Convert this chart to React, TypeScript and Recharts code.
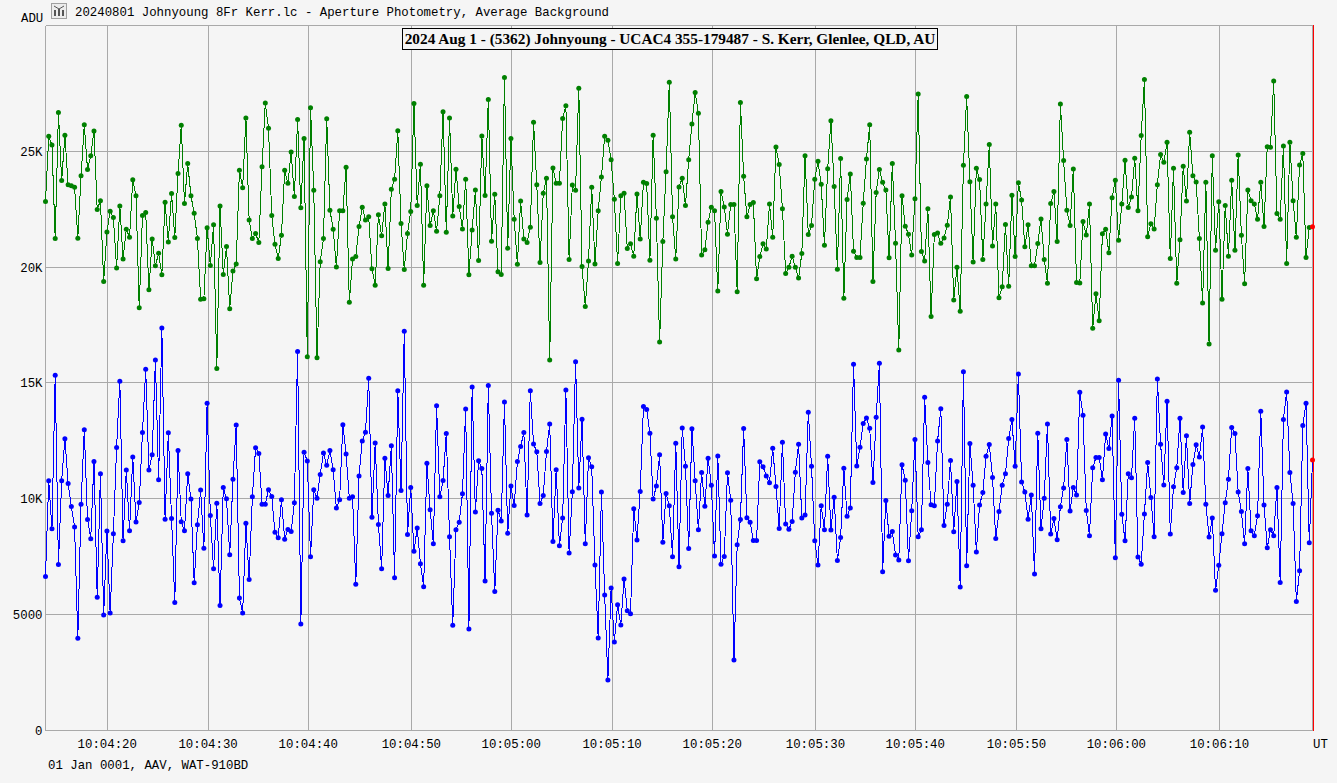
import React from "react";
import { CartesianGrid, Line, LineChart, ReferenceLine, XAxis, YAxis } from "recharts";

const targetAdu = [
  22830, 25650, 25270, 21240, 26670, 23740, 25690, 23560, 23510, 23450, 21250, 23940, 26150, 24210, 24810, 25880,
  22490, 22870, 19380, 21520, 22410, 22140, 19960, 22640, 20350, 21640, 21290, 23770, 23080, 18250, 22230, 22360,
  19020, 21220, 20060, 20600, 19670, 22800, 21090, 23180, 21280, 24040, 26120, 22750, 24470, 23080, 22330, 21240,
  18610, 18640, 21700, 20070, 21830, 15620, 22640, 19680, 20890, 18200, 19830, 20140, 24180, 23430, 26440, 22040,
  21240, 21450, 21060, 24330, 27080, 25990, 22230, 20990, 20370, 21380, 24180, 23620, 24970, 23050, 26370, 22560,
  25550, 16130, 26880, 23320, 16090, 20230, 21240, 26410, 22460, 21640, 20010, 22430,

  22430, 24310, 18480, 20350, 20460, 21750, 22590, 22030, 22170, 19930, 19220, 22260, 21350, 22730, 19940, 23360,
  23790, 25890, 21880, 19900, 21450, 22400, 27060, 22660, 24440, 19220, 23510, 21800, 22430, 21550, 23080, 26710,
  21510, 26440, 22210, 24230, 22620, 21650, 23790, 19670, 21600, 23330, 20290, 25660, 23090, 27240, 21120, 23150,
  19800, 19680, 28190, 20820, 25550, 22070, 20130, 22860, 21210, 21060, 21720, 26250, 23560, 20200, 23190, 23840,
  15990, 24280, 23620, 23620, 26420, 26970, 20330, 23550, 23320, 27720, 20030, 18300, 20270, 23450, 20140, 22430,
  23890, 25650, 25480, 24630, 22930, 20160, 23080, 23190, 20800, 21010, 20470, 23160, 21220, 23660, 23610, 20300,
  25690, 22110, 16770, 21110, 24120, 27980, 22170, 20350, 23460,

  23840, 22660, 24640, 26180, 27540, 26640, 20520, 20750, 21940, 22590, 22430, 18970, 23260, 22600, 21420, 22700,
  22700, 18940, 27110, 23920, 22170, 22700, 22790, 19500, 20460, 21010, 20780, 22720, 21290, 25190, 24430, 22520,
  19730, 19990, 20470, 20000, 19530, 20590, 24810, 21410, 21800, 23790, 24570, 23580, 20950, 24250, 26320, 23480,
  19910, 24690, 18660, 22920, 24020, 20690, 20420, 20420, 22760, 24670, 26150, 19380, 23220, 24210, 23660, 23330,
  20400, 24470, 21030, 16420, 23080, 21770, 21420, 20520, 22950, 27470, 20680, 20270, 22520, 17870, 21410, 21470,
  21030, 21260, 21810, 23030, 18580, 19990, 18100, 24400, 27370, 23690, 20220, 24270, 23780, 20330, 22730, 25290,
  20910, 22720, 18680, 19150, 21840, 19170, 23100, 20460, 23640,

  22900, 20880, 21830, 20060, 20060, 21020, 22080, 20330, 19310, 22750, 23260, 21110, 27040, 24600, 22460, 21800,
  24240, 19340, 19320, 21970, 21390, 22720, 17360, 18850, 17690, 21440, 21640, 20620, 23000, 23750, 21160, 22720,
  24610, 22570, 23030, 24700, 22430, 25680, 28100, 21310, 21870, 21650, 23560, 24860, 24530, 25390, 20370, 24270,
  19300, 21180, 24350, 22850, 25820, 23940, 23680, 21240, 18450, 23660, 16680, 24810, 20730, 22820, 18610, 22660,
  20470, 23750, 20730, 24840, 21380, 19280, 23330, 22870, 22720, 22070, 23660, 21750, 25200, 25170, 28030, 22310,
  22070, 25230, 20160, 25390, 22870, 21290, 24410, 24900, 20420, 21710, 21740,
];

const compAdu = [
  6650, 10780, 8710, 15330, 7160, 10780, 12590, 10660, 9670, 8780, 3980, 9770, 12980, 9110, 8280, 11610,
  5750, 11080, 4990, 8610, 5070, 8490, 12210, 15080, 8190, 11240, 8620, 11800, 9000, 9840, 12860, 15590,
  11240, 11900, 15990, 10820, 17370, 9120, 12850, 9150, 5530, 12090, 9010, 8620, 11080, 9990, 6380, 8880,
  10380, 7870, 14130, 9280, 6980, 9810, 5400, 10490, 10000, 7590, 10850, 13190, 5720, 5070, 8950, 6520,
  10090, 12200, 11960, 9770, 9770, 10390, 10100, 8560, 8320, 9960, 8250, 8680, 8590, 9830, 16360, 4600,
  12010, 11630, 7500, 10390, 10030, 11050, 11980, 11450, 12090, 11250, 9600, 9960,

  13200, 11930, 10030, 10090, 6310, 10980, 12500, 12870, 15200, 9200, 12410, 8890, 6980, 11750, 10140, 12290,
  6590, 14670, 10360, 17230, 8460, 10490, 7740, 8740, 7200, 6210, 11540, 9530, 8060, 14020, 10090, 10790,
  12820, 8360, 4540, 8660, 8990, 10220, 13880, 4380, 14830, 9430, 11640, 11310, 6450, 14890, 9380, 6000,
  9510, 9040, 14180, 8510, 10550, 9710, 11610, 12260, 12860, 9300, 14670, 12370, 12030, 9800, 10140, 12040,
  13230, 8160, 11260, 7970, 9170, 14700, 7660, 10300, 15920, 10470, 13430, 8060, 11770, 11380, 7140, 3990,
  10290, 5850, 2180, 6150, 3820, 5430, 4550, 6540, 5170, 5040, 9570, 8220, 10320, 13980, 13850, 12830,
  9990, 10550, 11900, 8130, 10230, 9700, 7500, 12400, 7070,

  13060, 11410, 7860, 13020, 10780, 8660, 11140, 9680, 11750, 10590, 7530, 11850, 7180, 7510, 11120, 9940,
  3040, 8020, 9110, 13030, 9180, 8990, 8200, 8200, 11600, 11380, 10990, 10690, 12180, 10530, 8720, 12440,
  8910, 8690, 9020, 11150, 12360, 9170, 9300, 13740, 11410, 8190, 7140, 9700, 8660, 11840, 8650, 10070,
  7340, 8330, 11320, 9250, 9600, 15810, 11420, 12230, 13250, 13490, 13050, 10700, 13520, 15850, 6850, 9930,
  8380, 8590, 7570, 7360, 11470, 10800, 7330, 9480, 12560, 8360, 8660, 14380, 11570, 9740, 9700, 12500,
  13890, 8850, 9770, 11650, 8580, 10750, 6190, 15490, 7110, 12390, 10590, 7700, 9730, 10270, 11840, 12340,
  10920, 8290, 9450, 10590, 11080, 12600, 13420, 11410, 15390,

  10730, 10290, 9120, 10160, 6750, 12830, 8710, 10030, 13230, 8480, 9150, 8230, 9660, 10470, 12560, 9470,
  10490, 10160, 14600, 13610, 9500, 8410, 11340, 11780, 11780, 10820, 12800, 12170, 13580, 7460, 15120, 9330,
  8190, 11080, 10910, 13480, 7490, 7180, 9350, 11570, 10060, 8360, 15170, 12360, 10600, 14210, 8480, 10520,
  11340, 13480, 10270, 12720, 9800, 11480, 12330, 11810, 13100, 9770, 8350, 9170, 6050, 7130, 8490, 9830,
  10850, 13080, 12820, 10290, 9450, 8060, 11310, 8620, 8410, 9270, 13780, 9730, 7890, 8660, 8410, 10490,
  6390, 13420, 14610, 11140, 9800, 5570, 6900, 13160, 14120, 8100, 11680,
];

const timeLabels = [
  "10:04:20", "10:04:30", "10:04:40", "10:04:50", "10:05:00", "10:05:10",
  "10:05:20", "10:05:30", "10:05:40", "10:05:50", "10:06:00", "10:06:10",
];
// position of each time label in frames
const timeFrames = [19.1, 50.3, 81.3, 113.2, 144.1, 175.3, 206.3, 238.2, 269.1, 300.4, 331.3, 363.2];

const aduTicks = [0, 5000, 10000, 15000, 20000, 25000];
const aduLabels = ["0", "5000", "10K", "15K", "20K", "25K"];
const aduTop = 30430;

const lastFrame = targetAdu.length - 1;
const frames = targetAdu.map((target, frame) => ({ frame, target, comp: compAdu[frame] }));

const GRID = "#a9a9a9";
const BG = "#f5f5f5";
const MONO = "'Liberation Mono', monospace";
const tickStyle = { fontFamily: MONO, fontSize: 12.37, fill: "#000" };

const makeDot = (color: string) => (props: any) => (
  <circle
    key={props.index}
    cx={props.cx}
    cy={props.cy}
    r={2.5}
    fill={props.index === lastFrame ? "#ff0000" : color}
    stroke="none"
  />
);

const Label = ({ left, top, children }: { left: number; top: number; children: React.ReactNode }) => (
  <div
    style={{
      position: "absolute",
      left,
      top,
      fontFamily: MONO,
      fontSize: 12.37,
      lineHeight: "14px",
      color: "#000",
      whiteSpace: "pre"
    }}>
    {children}
  </div>
);

export default function App() {
  return (
    <div style={{ position: "absolute", left: 0, top: 0, width: 1337, height: 783, background: BG, overflow: "hidden" }}>
      <style>{`
        body { margin: 0; background: ${BG}; }
        .recharts-line-curve, .recharts-cartesian-grid line, .recharts-reference-line line { shape-rendering: crispEdges; }
      `}</style>
      <LineChart
        width={1337}
        height={783}
        data={frames}
        margin={{ top: 25.5, right: 24.5, bottom: 0, left: 0 }}
        style={{ position: "absolute", left: 0, top: 0 }}>
        <CartesianGrid stroke={GRID} strokeWidth={1} />
        <XAxis
          dataKey="frame"
          type="number"
          domain={[0, lastFrame]}
          ticks={timeFrames}
          interval={0}
          height={52.5}
          tickLine={false}
          axisLine={false}
          tickMargin={3}
          tick={tickStyle}
          tickFormatter={(v: number) => timeLabels[timeFrames.indexOf(v)]}
        />
        <YAxis
          type="number"
          domain={[0, aduTop]}
          ticks={aduTicks}
          interval={0}
          width={45.5}
          tickLine={false}
          axisLine={false}
          tickMargin={3}
          tickSize={0}
          tick={tickStyle}
          tickFormatter={(v: number) => aduLabels[aduTicks.indexOf(v)]}
        />
        <ReferenceLine y={aduTop} stroke={GRID} />
        <ReferenceLine y={0} stroke={GRID} />
        <ReferenceLine x={0} stroke={GRID} />
        <ReferenceLine x={lastFrame} stroke={GRID} />
        <Line
          dataKey="target"
          type="linear"
          stroke="#008000"
          strokeWidth={1}
          dot={makeDot("#008000")}
          isAnimationActive={false}
        />
        <Line
          dataKey="comp"
          type="linear"
          stroke="#0000ff"
          strokeWidth={1}
          dot={makeDot("#0000ff")}
          isAnimationActive={false}
        />
      </LineChart>

      {/* cursor at the last frame */}
      <div style={{ position: "absolute", left: 1313, top: 25, width: 1, height: 706, background: "#ff0000" }} />

      <svg style={{ position: "absolute", left: 51, top: 3 }} width={16} height={16}>
        <rect x={0.5} y={0.5} width={15} height={15} fill="#ececec" stroke="#a0a0a0" />
        <path d="M4 7v6M8 6v7M12 7v6" stroke="#555" strokeWidth={2} />
        <path d="M3 3l5 3l5-3" stroke="#555" fill="none" />
      </svg>
      <Label left={75} top={6}>20240801 Johnyoung 8Fr Kerr.lc - Aperture Photometry, Average Background</Label>
      <Label left={21} top={12}>ADU</Label>
      <Label left={1313} top={738}>UT</Label>
      <Label left={48} top={759}>01 Jan 0001, AAV, WAT-910BD</Label>

      <div
        style={{
          position: "absolute",
          left: 402,
          top: 28,
          width: 534,
          height: 20,
          border: "1px solid #000",
          background: BG,
          fontFamily: "'Liberation Serif', serif",
          fontWeight: "bold",
          fontSize: 15.3,
          lineHeight: "19px",
          textAlign: "center",
          whiteSpace: "nowrap",
          color: "#000"
        }}>
        2024 Aug 1 - (5362) Johnyoung - UCAC4 355-179487 - S. Kerr, Glenlee, QLD, AU
      </div>
    </div>
  );
}
